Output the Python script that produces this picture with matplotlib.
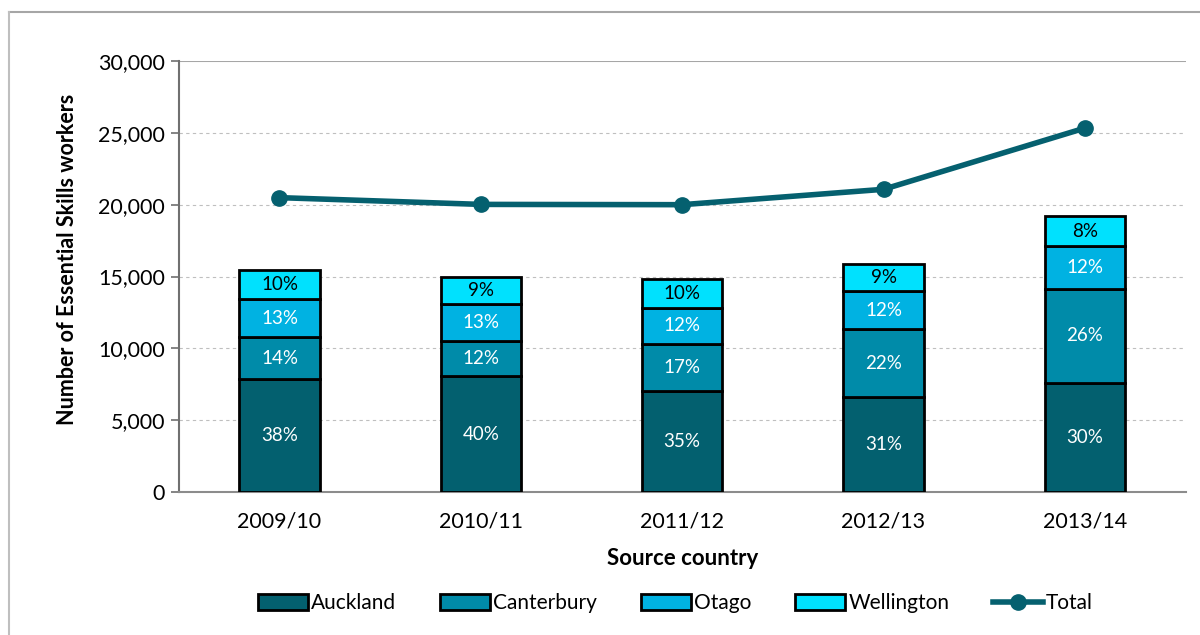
import numpy as np
import matplotlib
matplotlib.use("Agg")
import matplotlib.pyplot as plt
from matplotlib.lines import Line2D

plt.rcParams['font.family'] = ['Lato', 'DejaVu Sans']

# Data
years = ["2009/10", "2010/11", "2011/12", "2012/13", "2013/14"]
regions = ["Auckland", "Canterbury", "Otago", "Wellington"]
auckland = [7840, 8070, 7010, 6610, 7590]
canterbury = [2930, 2470, 3320, 4710, 6560]
otago = [2640, 2520, 2500, 2650, 2950]
wellington = [2020, 1900, 1970, 1920, 2090]
total = [20490, 20020, 20000, 21070, 25330]

pct_auckland = ["38%", "40%", "35%", "31%", "30%"]
pct_canterbury = ["14%", "12%", "17%", "22%", "26%"]
pct_otago = ["13%", "13%", "12%", "12%", "12%"]
pct_wellington = ["10%", "9%", "10%", "9%", "8%"]

colors = ["#03606F", "#008BA9", "#00B2E2", "#00E1FE"]
text_colors = ["white", "white", "white", "black"]
line_color = "#05606F"

fig = plt.figure(figsize=(12, 6.35), dpi=100)
ax = fig.add_axes([0.149, 0.225, 0.839, 0.679])

x = np.arange(len(years))
series = [auckland, canterbury, otago, wellington]
labels = [pct_auckland, pct_canterbury, pct_otago, pct_wellington]
bottom = np.zeros(len(years))
for vals, name, col, tcol, lab in zip(series, regions, colors, text_colors, labels):
    vals = np.array(vals)
    ax.bar(x, vals, 0.40, bottom=bottom, color=col, edgecolor="black",
           linewidth=2, label=name, zorder=3)
    for xi, b, v, t in zip(x, bottom, vals, lab):
        ax.text(xi, b + v / 2, t, ha="center", va="center", color=tcol,
                fontsize=13.5, zorder=4)
    bottom = bottom + vals

ax.plot(x, total, color=line_color, linewidth=4, marker="o", markersize=11,
        label="Total", zorder=5)

ax.set_xlim(-0.5, 4.5)
ax.set_ylim(0, 30000)
ax.set_yticks(np.arange(0, 30001, 5000))
ax.yaxis.set_major_formatter(matplotlib.ticker.FuncFormatter(lambda v, p: f"{int(v):,}"))
ax.set_xticks(x)
ax.set_xticklabels(years)
ax.tick_params(axis="both", labelsize=15.5, colors="black", length=0)
ax.tick_params(axis="y", length=6, direction="out", color="#707070", width=1.2, pad=4)
ax.tick_params(axis="x", pad=14)

for gy in range(5000, 30000, 5000):
    ax.axhline(gy, color="#BFBFBF", linestyle=(0, (3, 3)), linewidth=0.8, zorder=1)
ax.axhline(30000, color="#A6A6A6", linewidth=1.5, zorder=1)

for s in ["top", "right"]:
    ax.spines[s].set_visible(False)
ax.spines["left"].set_color("#707070")
ax.spines["left"].set_linewidth(1.5)
ax.spines["bottom"].set_color("#8C8C8C")
ax.spines["bottom"].set_linewidth(1.5)

ax.set_ylabel("Number of Essential Skills workers", fontsize=15.5, fontweight="bold")
ax.yaxis.set_label_coords(-0.1, 0.54)
ax.set_xlabel("Source country", fontsize=16, fontweight="bold", labelpad=12)

handles, labs = ax.get_legend_handles_labels()
order = [1, 2, 3, 4, 0]
leg = fig.legend([handles[i] for i in order], [labs[i] for i in order],
                 loc="center", bbox_to_anchor=(0.563, 0.05), ncol=5, frameon=False,
                 fontsize=15, handlelength=2.4, handleheight=0.8, handletextpad=0.15,
                 columnspacing=2.1)

# light frame at top and left of the figure
fig.add_artist(Line2D([0.0075, 1.0], [0.981, 0.981], color="#A6A6A6", linewidth=1.5))
fig.add_artist(Line2D([0.0075, 0.0075], [0.0, 0.981], color="#BFBFBF", linewidth=1.5))

plt.savefig("out.png", dpi=100)
